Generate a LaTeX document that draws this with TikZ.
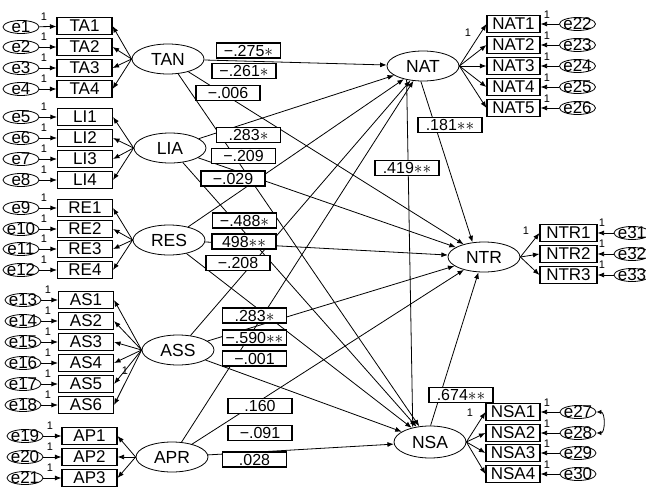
\documentclass[tikz,border=0pt]{standalone}
\usepackage{fontspec}
\setmainfont{Liberation Sans}
\usetikzlibrary{shapes.geometric,arrows.meta}
\begin{document}
\begin{tikzpicture}[x=1pt,y=-1pt,line width=0.8pt,
lat/.style={draw,ellipse,minimum width=72,minimum height=30,inner sep=0,font=\fontsize{17.5}{17.5}\selectfont},
obs/.style={draw,rectangle,minimum width=55,minimum height=17,inner sep=0,line width=1.1pt,font=\fontsize{17}{17}\selectfont},
err/.style={draw,ellipse,minimum width=36,minimum height=13,inner xsep=-2pt,inner ysep=-2.5pt,font=\fontsize{17}{17}\selectfont},
est/.style={draw,rectangle,fill=white,minimum width=64,minimum height=15,inner sep=0,line width=1.1pt,font=\fontsize{16}{16}\selectfont},
one/.style={inner sep=0,font=\fontsize{11}{11}\selectfont},
arr/.style={-{Latex[length=6.5pt,width=5pt]}},
cov/.style={{Latex[length=5pt,width=4.5pt]}-{Latex[length=5pt,width=4.5pt]}}]
\useasboundingbox (0,0) rectangle (646,498);
\draw (168,59) node[lat] (TAN) {TAN};
\draw (170,148) node[lat] (LIA) {LIA};
\draw (169,240) node[lat] (RES) {RES};
\draw (178,350) node[lat] (ASS) {ASS};
\draw (172,457) node[lat] (APR) {APR};
\draw (423,66) node[lat] (NAT) {NAT};
\draw (484,257) node[lat] (NTR) {NTR};
\draw (430,442) node[lat,minimum height=32] (NSA) {NSA};
\draw (84.5,26) node[obs] (TA1) {TA1};
\draw (84.5,47) node[obs] (TA2) {TA2};
\draw (84.5,68) node[obs] (TA3) {TA3};
\draw (84.5,89) node[obs] (TA4) {TA4};
\draw (85,117) node[obs] (LI1) {LI1};
\draw (85,138) node[obs] (LI2) {LI2};
\draw (85,159) node[obs] (LI3) {LI3};
\draw (85,180) node[obs] (LI4) {LI4};
\draw (85,208) node[obs] (RE1) {RE1};
\draw (85,229) node[obs] (RE2) {RE2};
\draw (85,249) node[obs] (RE3) {RE3};
\draw (85,270) node[obs] (RE4) {RE4};
\draw (86,300) node[obs] (AS1) {AS1};
\draw (86,321) node[obs] (AS2) {AS2};
\draw (86,342) node[obs] (AS3) {AS3};
\draw (86,363) node[obs] (AS4) {AS4};
\draw (86,384) node[obs] (AS5) {AS5};
\draw (86,405) node[obs] (AS6) {AS6};
\draw (89.5,436) node[obs] (AP1) {AP1};
\draw (89.5,457) node[obs] (AP2) {AP2};
\draw (89.5,478) node[obs] (AP3) {AP3};
\draw (513.5,24) node[obs,minimum width=53] (NAT1) {NAT1};
\draw (513.5,45) node[obs,minimum width=53] (NAT2) {NAT2};
\draw (513.5,66) node[obs,minimum width=53] (NAT3) {NAT3};
\draw (513.5,87) node[obs,minimum width=53] (NAT4) {NAT4};
\draw (513.5,108) node[obs,minimum width=53] (NAT5) {NAT5};
\draw (568.5,233) node[obs,minimum width=57] (NTR1) {NTR1};
\draw (568.5,254) node[obs,minimum width=57] (NTR2) {NTR2};
\draw (568.5,275) node[obs,minimum width=57] (NTR3) {NTR3};
\draw (513,412) node[obs,minimum width=54] (NSA1) {NSA1};
\draw (513,433) node[obs,minimum width=54] (NSA2) {NSA2};
\draw (513,453) node[obs,minimum width=54] (NSA3) {NSA3};
\draw (513,474) node[obs,minimum width=54] (NSA4) {NSA4};
\draw (21,27) node[err] (e1) {e1};
\draw (21,47) node[err] (e2) {e2};
\draw (21,68) node[err] (e3) {e3};
\draw (21,89) node[err] (e4) {e4};
\draw (21,117) node[err] (e5) {e5};
\draw (21,138) node[err] (e6) {e6};
\draw (21,159) node[err] (e7) {e7};
\draw (21,180) node[err] (e8) {e8};
\draw (21,208) node[err] (e9) {e9};
\draw (21,229) node[err] (e10) {e10};
\draw (21,249) node[err] (e11) {e11};
\draw (21,270) node[err] (e12) {e12};
\draw (23,300) node[err] (e13) {e13};
\draw (23,321) node[err] (e14) {e14};
\draw (23,342) node[err] (e15) {e15};
\draw (23,363) node[err] (e16) {e16};
\draw (23,384) node[err] (e17) {e17};
\draw (23,405) node[err] (e18) {e18};
\draw (25,436) node[err] (e19) {e19};
\draw (25,457) node[err] (e20) {e20};
\draw (25,478) node[err] (e21) {e21};
\draw (577.5,24) node[err] (e22) {e22};
\draw (577.5,45) node[err] (e23) {e23};
\draw (577.5,66) node[err] (e24) {e24};
\draw (577.5,87) node[err] (e25) {e25};
\draw (577.5,108) node[err] (e26) {e26};
\draw (578,412) node[err] (e27) {e27};
\draw (578,433) node[err] (e28) {e28};
\draw (578,453) node[err] (e29) {e29};
\draw (578,474) node[err] (e30) {e30};
\draw (632,233) node[err] (e31) {e31};
\draw (632,254) node[err] (e32) {e32};
\draw (632,275) node[err] (e33) {e33};
\draw[arr] (e1) -- (TA1);
\draw[arr] (e2) -- (TA2);
\draw[arr] (e3) -- (TA3);
\draw[arr] (e4) -- (TA4);
\draw[arr] (e5) -- (LI1);
\draw[arr] (e6) -- (LI2);
\draw[arr] (e7) -- (LI3);
\draw[arr] (e8) -- (LI4);
\draw[arr] (e9) -- (RE1);
\draw[arr] (e10) -- (RE2);
\draw[arr] (e11) -- (RE3);
\draw[arr] (e12) -- (RE4);
\draw[arr] (e13) -- (AS1);
\draw[arr] (e14) -- (AS2);
\draw[arr] (e15) -- (AS3);
\draw[arr] (e16) -- (AS4);
\draw[arr] (e17) -- (AS5);
\draw[arr] (e18) -- (AS6);
\draw[arr] (e19) -- (AP1);
\draw[arr] (e20) -- (AP2);
\draw[arr] (e21) -- (AP3);
\draw[arr] (e22) -- (NAT1);
\draw[arr] (e23) -- (NAT2);
\draw[arr] (e24) -- (NAT3);
\draw[arr] (e25) -- (NAT4);
\draw[arr] (e26) -- (NAT5);
\draw[arr] (e27) -- (NSA1);
\draw[arr] (e28) -- (NSA2);
\draw[arr] (e29) -- (NSA3);
\draw[arr] (e30) -- (NSA4);
\draw[arr] (e31) -- (NTR1);
\draw[arr] (e32) -- (NTR2);
\draw[arr] (e33) -- (NTR3);
\draw[cov] (e27.east) .. controls +(9,0) and +(9,0) .. (e28.east);
\draw[arr] (TAN.west) -- (TA1.east);
\draw[arr] (TAN.west) -- (TA2.east);
\draw[arr] (TAN.west) -- (TA3.east);
\draw[arr] (TAN.west) -- (TA4.east);
\draw[arr] (LIA.west) -- (LI1.east);
\draw[arr] (LIA.west) -- (LI2.east);
\draw[arr] (LIA.west) -- (LI3.east);
\draw[arr] (LIA.west) -- (LI4.east);
\draw[arr] (RES.west) -- (RE1.east);
\draw[arr] (RES.west) -- (RE2.east);
\draw[arr] (RES.west) -- (RE3.east);
\draw[arr] (RES.west) -- (RE4.east);
\draw[arr] (ASS.west) -- (AS1.east);
\draw[arr] (ASS.west) -- (AS2.east);
\draw[arr] (ASS.west) -- (AS3.east);
\draw[arr] (ASS.west) -- (AS4.east);
\draw[arr] (ASS.west) -- (AS5.east);
\draw[arr] (ASS.west) -- (AS6.east);
\draw[arr] (APR.west) -- (AP1.east);
\draw[arr] (APR.west) -- (AP2.east);
\draw[arr] (APR.west) -- (AP3.east);
\draw[arr] (NAT.east) -- (NAT1.west);
\draw[arr] (NAT.east) -- (NAT2.west);
\draw[arr] (NAT.east) -- (NAT3.west);
\draw[arr] (NAT.east) -- (NAT4.west);
\draw[arr] (NAT.east) -- (NAT5.west);
\draw[arr] (NTR.east) -- (NTR1.west);
\draw[arr] (NTR.east) -- (NTR2.west);
\draw[arr] (NTR.east) -- (NTR3.west);
\draw[arr] (NSA.east) -- (NSA1.west);
\draw[arr] (NSA.east) -- (NSA2.west);
\draw[arr] (NSA.east) -- (NSA3.west);
\draw[arr] (NSA.east) -- (NSA4.west);
\draw[arr] (TAN) -- (NAT);
\draw[arr] (TAN) -- (NTR);
\draw[arr] (TAN) -- (NSA);
\draw[arr] (LIA) -- (NAT);
\draw[arr] (LIA) -- (NTR);
\draw[arr] (LIA) -- (NSA);
\draw[arr] (RES) -- (NAT);
\draw[arr] (RES) -- (NTR);
\draw[arr] (RES) -- (NSA);
\draw[arr] (ASS) -- (NAT);
\draw[arr] (ASS) -- (NTR);
\draw[arr] (ASS) -- (NSA);
\draw[arr] (APR) -- (NAT);
\draw[arr] (APR) -- (NTR);
\draw[arr] (APR) -- (NSA);
\draw[arr] (NAT.262) -- (NTR.128);
\draw[arr] (NAT.220) -- (NSA.140);
\draw[arr] (NSA.88) -- (NTR.250);
\draw (44,17) node[one] (o1) {1};
\draw (44,37) node[one] (o2) {1};
\draw (44,58) node[one] (o3) {1};
\draw (44,79) node[one] (o4) {1};
\draw (44,107) node[one] (o5) {1};
\draw (44,128) node[one] (o6) {1};
\draw (44,149) node[one] (o7) {1};
\draw (44,170) node[one] (o8) {1};
\draw (44,198) node[one] (o9) {1};
\draw (44,219) node[one] (o10) {1};
\draw (44,239) node[one] (o11) {1};
\draw (44,260) node[one] (o12) {1};
\draw (48,290) node[one] (o13) {1};
\draw (48,311) node[one] (o14) {1};
\draw (48,332) node[one] (o15) {1};
\draw (48,353) node[one] (o16) {1};
\draw (48,374) node[one] (o17) {1};
\draw (48,395) node[one] (o18) {1};
\draw (50,426) node[one] (o19) {1};
\draw (50,447) node[one] (o20) {1};
\draw (50,468) node[one] (o21) {1};
\draw (547,15) node[one] (o22) {1};
\draw (547,36) node[one] (o23) {1};
\draw (547,57) node[one] (o24) {1};
\draw (547,78) node[one] (o25) {1};
\draw (547,99) node[one] (o26) {1};
\draw (547,403) node[one] (o27) {1};
\draw (547,424) node[one] (o28) {1};
\draw (547,444) node[one] (o29) {1};
\draw (547,465) node[one] (o30) {1};
\draw (602,223) node[one] (o31) {1};
\draw (602,244) node[one] (o32) {1};
\draw (602,265) node[one] (o33) {1};
\draw (125,371) node[one] (o34) {1};
\draw (468,33) node[one] (o35) {1};
\draw (526,231) node[one] (o36) {1};
\draw (470,413) node[one] (o37) {1};
\draw (248.5,50.5) node[est] (b1) {−.275$\ast$};
\draw (244,71) node[est] (b2) {−.261$\ast$};
\draw (228,93) node[est] (b3) {−.006};
\draw (248.5,135) node[est] (b4) {.283$\ast$};
\draw (243.5,156) node[est] (b5) {−.209};
\draw (233,178.5) node[est] (b6) {−.029};
\draw (244.5,220.5) node[est] (b7) {−.488$\ast$};
\draw (244,241.5) node[est] (b8) {498$\ast\ast$};
\draw (238,263) node[est] (b9) {−.208};
\draw (254.5,315.5) node[est] (b10) {.283$\ast$};
\draw (254.5,337.5) node[est] (b11) {−.590$\ast\ast$};
\draw (254.5,358.5) node[est] (b12) {−.001};
\draw (260,406) node[est] (b13) {.160};
\draw (260,433) node[est] (b14) {−.091};
\draw (254.5,459.5) node[est] (b15) {.028};
\draw (450,125) node[est] (b16) {.181$\ast\ast$};
\draw (407,168) node[est] (b17) {.419$\ast\ast$};
\draw (461,395) node[est] (b18) {.674$\ast\ast$};
\end{tikzpicture}
\end{document}
